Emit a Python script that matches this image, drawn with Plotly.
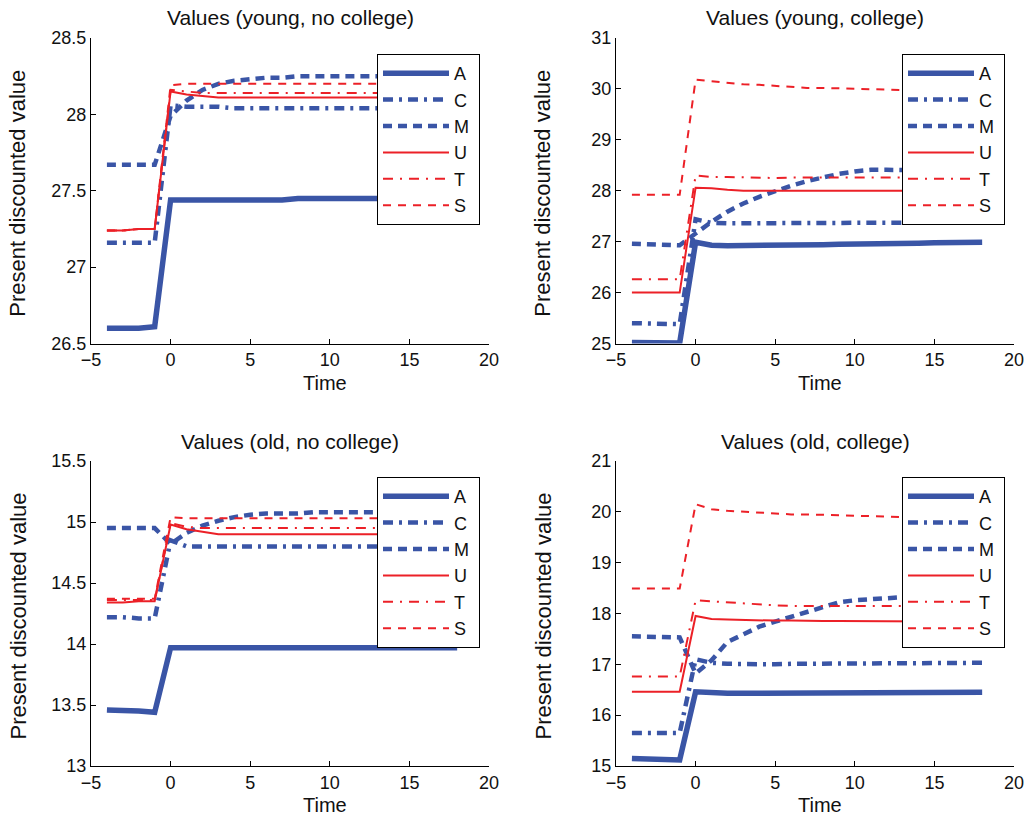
import plotly.graph_objects as go

W, H = 1034, 817

time = [-4, -3, -2, -1, 0, 1, 2, 3, 4, 5, 6, 7, 8, 9, 10, 11, 12, 13, 14, 15, 16, 17, 18]
series_names = ["A", "C", "M", "U", "T", "S"]
panel_titles = ["Values (young, no college)", "Values (young, college)",
                "Values (old, no college)", "Values (old, college)"]

# Panel 1: young, no college
yn_A = [26.60, 26.60, 26.60, 26.61, 27.44, 27.44, 27.44, 27.44, 27.44, 27.44, 27.44, 27.44, 27.45, 27.45, 27.45, 27.45, 27.45, 27.45, 27.45, 27.45, 27.45, 27.45, 27.45]
yn_C = [27.16, 27.16, 27.16, 27.16, 28.06, 28.05, 28.05, 28.05, 28.04, 28.04, 28.04, 28.04, 28.04, 28.04, 28.04, 28.04, 28.04, 28.04, 28.04, 28.04, 28.04, 28.04, 28.04]
yn_M = [27.67, 27.67, 27.67, 27.67, 27.99, 28.09, 28.16, 28.20, 28.22, 28.23, 28.24, 28.24, 28.25, 28.25, 28.25, 28.25, 28.25, 28.25, 28.25, 28.25, 28.25, 28.25, 28.25]
yn_U = [27.24, 27.24, 27.25, 27.25, 28.15, 28.13, 28.12, 28.11, 28.11, 28.11, 28.11, 28.11, 28.11, 28.11, 28.11, 28.11, 28.11, 28.11, 28.11, 28.11, 28.11, 28.11, 28.11]
yn_T = [27.24, 27.24, 27.25, 27.25, 28.16, 28.15, 28.14, 28.14, 28.14, 28.14, 28.14, 28.14, 28.14, 28.14, 28.14, 28.14, 28.14, 28.14, 28.14, 28.14, 28.14, 28.14, 28.14]
yn_S = [27.24, 27.24, 27.25, 27.25, 28.19, 28.20, 28.20, 28.20, 28.20, 28.20, 28.20, 28.20, 28.20, 28.20, 28.20, 28.20, 28.20, 28.20, 28.20, 28.20, 28.20, 28.20, 28.20]

# Panel 2: young, college
yc_A = [25.02, 25.02, 25.02, 25.01, 26.99, 26.93, 26.92, 26.92, 26.92, 26.93, 26.93, 26.94, 26.94, 26.95, 26.95, 26.96, 26.96, 26.97, 26.97, 26.98, 26.98, 26.99, 26.99]
yc_C = [25.40, 25.40, 25.39, 25.38, 27.44, 27.37, 27.36, 27.36, 27.36, 27.36, 27.37, 27.37, 27.37, 27.37, 27.37, 27.37, 27.37, 27.37, 27.38, 27.38, 27.38, 27.38, 27.38]
yc_M = [26.96, 26.95, 26.94, 26.93, 27.16, 27.39, 27.59, 27.75, 27.88, 28.00, 28.10, 28.19, 28.27, 28.33, 28.38, 28.41, 28.41, 28.41, 28.40, 28.40, 28.40, 28.40, 28.40]
yc_U = [26.00, 26.00, 26.00, 26.00, 28.06, 28.05, 28.02, 28.00, 28.00, 28.00, 28.00, 28.00, 28.00, 28.00, 28.00, 28.00, 28.00, 28.00, 28.00, 28.00, 28.00, 28.00, 28.00]
yc_T = [26.26, 26.26, 26.26, 26.26, 28.30, 28.27, 28.27, 28.26, 28.26, 28.25, 28.26, 28.26, 28.27, 28.27, 28.26, 28.26, 28.26, 28.26, 28.26, 28.26, 28.26, 28.26, 28.26]
yc_S = [27.92, 27.92, 27.92, 27.92, 30.18, 30.15, 30.11, 30.09, 30.08, 30.06, 30.03, 30.02, 30.02, 30.01, 30.00, 29.99, 29.98, 29.97, 29.97, 29.96, 29.96, 29.96, 29.95]

# Panel 3: old, no college
on_A = [13.46, 13.46, 13.45, 13.44, 13.97, 13.97, 13.97, 13.97, 13.97, 13.97, 13.97, 13.97, 13.97, 13.97, 13.97, 13.97, 13.97, 13.97, 13.97, 13.97, 13.97, 13.97, 13.97]
on_C = [14.22, 14.22, 14.21, 14.21, 14.85, 14.80, 14.80, 14.80, 14.80, 14.80, 14.80, 14.80, 14.80, 14.80, 14.80, 14.80, 14.80, 14.80, 14.80, 14.80, 14.80, 14.80, 14.80]
on_M = [14.95, 14.95, 14.95, 14.95, 14.82, 14.91, 14.97, 15.01, 15.04, 15.06, 15.07, 15.07, 15.07, 15.08, 15.08, 15.08, 15.08, 15.08, 15.08, 15.08, 15.08, 15.08, 15.08]
on_U = [14.34, 14.34, 14.35, 14.35, 14.98, 14.94, 14.92, 14.90, 14.90, 14.90, 14.90, 14.90, 14.90, 14.90, 14.90, 14.90, 14.90, 14.90, 14.90, 14.90, 14.90, 14.90, 14.90]
on_T = [14.36, 14.36, 14.36, 14.36, 14.99, 14.96, 14.95, 14.95, 14.95, 14.95, 14.95, 14.95, 14.95, 14.95, 14.95, 14.95, 14.95, 14.95, 14.95, 14.95, 14.95, 14.95, 14.95]
on_S = [14.37, 14.37, 14.37, 14.37, 15.04, 15.03, 15.03, 15.03, 15.03, 15.03, 15.03, 15.03, 15.03, 15.03, 15.03, 15.03, 15.03, 15.03, 15.03, 15.03, 15.03, 15.03, 15.03]

# Panel 4: old, college
oc_A = [15.15, 15.14, 15.13, 15.12, 16.46, 16.44, 16.43, 16.43, 16.43, 16.43, 16.43, 16.43, 16.43, 16.44, 16.44, 16.44, 16.44, 16.44, 16.45, 16.45, 16.45, 16.45, 16.45]
oc_C = [15.65, 15.65, 15.65, 15.65, 17.10, 17.03, 17.01, 17.00, 17.00, 17.00, 17.01, 17.01, 17.01, 17.02, 17.02, 17.02, 17.02, 17.02, 17.03, 17.03, 17.03, 17.03, 17.03]
oc_M = [17.55, 17.55, 17.54, 17.53, 16.82, 17.08, 17.44, 17.60, 17.74, 17.84, 17.94, 18.04, 18.14, 18.22, 18.26, 18.28, 18.32, 18.34, 18.36, 18.37, 18.38, 18.39, 18.40]
oc_U = [16.46, 16.46, 16.46, 16.46, 17.95, 17.89, 17.88, 17.87, 17.86, 17.86, 17.86, 17.85, 17.85, 17.85, 17.85, 17.84, 17.84, 17.84, 17.84, 17.84, 17.84, 17.84, 17.84]
oc_T = [16.76, 16.76, 16.76, 16.76, 18.26, 18.24, 18.22, 18.20, 18.17, 18.16, 18.15, 18.15, 18.15, 18.15, 18.15, 18.15, 18.15, 18.15, 18.15, 18.15, 18.15, 18.15, 18.15]
oc_S = [18.49, 18.49, 18.49, 18.49, 20.15, 20.05, 20.02, 20.00, 19.98, 19.96, 19.95, 19.95, 19.94, 19.93, 19.92, 19.91, 19.90, 19.89, 19.89, 19.88, 19.88, 19.88, 19.88]

panels = [
    [yn_A, yn_C, yn_M, yn_U, yn_T, yn_S],
    [yc_A, yc_C, yc_M, yc_U, yc_T, yc_S],
    [on_A, on_C, on_M, on_U, on_T, on_S],
    [oc_A, oc_C, oc_M, oc_U, oc_T, oc_S],
]
y_ranges = [[26.5, 28.5], [25, 31], [13, 15.5], [15, 21]]
y_dticks = [0.5, 1, 0.5, 1]

BLUE = "#3a55a6"
RED = "#ec2027"
styles = {
    "A": dict(color=BLUE, width=5.5, dash="solid"),
    "C": dict(color=BLUE, width=4.5, dash="10px,6px,3px,6px"),
    "M": dict(color=BLUE, width=4.5, dash="9px,6px"),
    "U": dict(color=RED, width=2, dash="solid"),
    "T": dict(color=RED, width=2, dash="10px,7px,2px,7px"),
    "S": dict(color=RED, width=2, dash="8px,7px"),
}

# pixel geometry of each axes box: (left, right, top, bottom)
boxes = [(91, 489, 38, 343.5), (616, 1014, 38, 343.5),
         (91, 489, 461, 766), (616, 1014, 461, 766)]
time_label_x = [325, 820, 325, 820]

FONT = "Liberation Sans, Arial, Helvetica, sans-serif"
fig = go.Figure()
layout = dict(width=W, height=H, margin=dict(l=0, r=0, t=0, b=0, pad=0, autoexpand=False),
              paper_bgcolor="white", plot_bgcolor="white", template="none",
              font=dict(family=FONT, color="#111111"), annotations=[])

for i, (vals, box) in enumerate(zip(panels, boxes)):
    n = i + 1
    xa = "x" if n == 1 else f"x{n}"
    ya = "y" if n == 1 else f"y{n}"
    leg = "legend" if n == 1 else f"legend{n}"
    for name, v in zip(series_names, vals):
        fig.add_trace(go.Scatter(x=time, y=v, mode="lines", name=name + "\u00a0",
                                 line=styles[name], xaxis=xa, yaxis=ya,
                                 legend=leg, showlegend=True))
    l, r, t, b = box
    xkey = "xaxis" if n == 1 else f"xaxis{n}"
    ykey = "yaxis" if n == 1 else f"yaxis{n}"
    layout[xkey] = dict(domain=[l / W, r / W], range=[-5, 20], dtick=5, tick0=0,
                        anchor=ya, showgrid=False, zeroline=False, automargin=False,
                        showline=True, linecolor="black", linewidth=1,
                        ticks="inside", ticklen=5, tickcolor="black",
                        tickfont=dict(size=18, family=FONT, color="#111111"),
                        fixedrange=True)
    layout[ykey] = dict(domain=[(H - b) / H, (H - t) / H], range=y_ranges[i],
                        dtick=y_dticks[i], anchor=xa, showgrid=False, zeroline=False,
                        automargin=False,
                        showline=True, linecolor="black", linewidth=1,
                        ticks="inside", ticklen=5, tickcolor="black",
                        tickfont=dict(size=18, family=FONT, color="#111111"),
                        fixedrange=True)
    # legend in top right of each box
    layout[leg] = dict(x=(r - 9) / W, xanchor="right", y=(H - (t + 16)) / H, yanchor="top",
                       bgcolor="white", bordercolor="black", borderwidth=1,
                       font=dict(size=18, family=FONT, color="#111111"),
                       itemwidth=66, tracegroupgap=0)
    cx = (l + r) / 2
    layout["annotations"] += [
        dict(text=panel_titles[i], x=cx / W, y=(H - (t - 20)) / H, xref="paper", yref="paper",
             showarrow=False, xanchor="center", yanchor="middle",
             font=dict(size=21, family=FONT, color="#111111")),
        dict(text="Time", x=time_label_x[i] / W, y=(H - (b + 39)) / H, xref="paper", yref="paper",
             showarrow=False, xanchor="center", yanchor="middle",
             font=dict(size=20, family=FONT, color="#111111")),
        dict(text="Present discounted value", x=(l - 73) / W, y=(H - (t + b) / 2 - 3) / H,
             xref="paper", yref="paper", textangle=-90,
             showarrow=False, xanchor="center", yanchor="middle",
             font=dict(size=22, family=FONT, color="#111111")),
    ]

fig.update_layout(**layout)
fig.write_html("out.html")
